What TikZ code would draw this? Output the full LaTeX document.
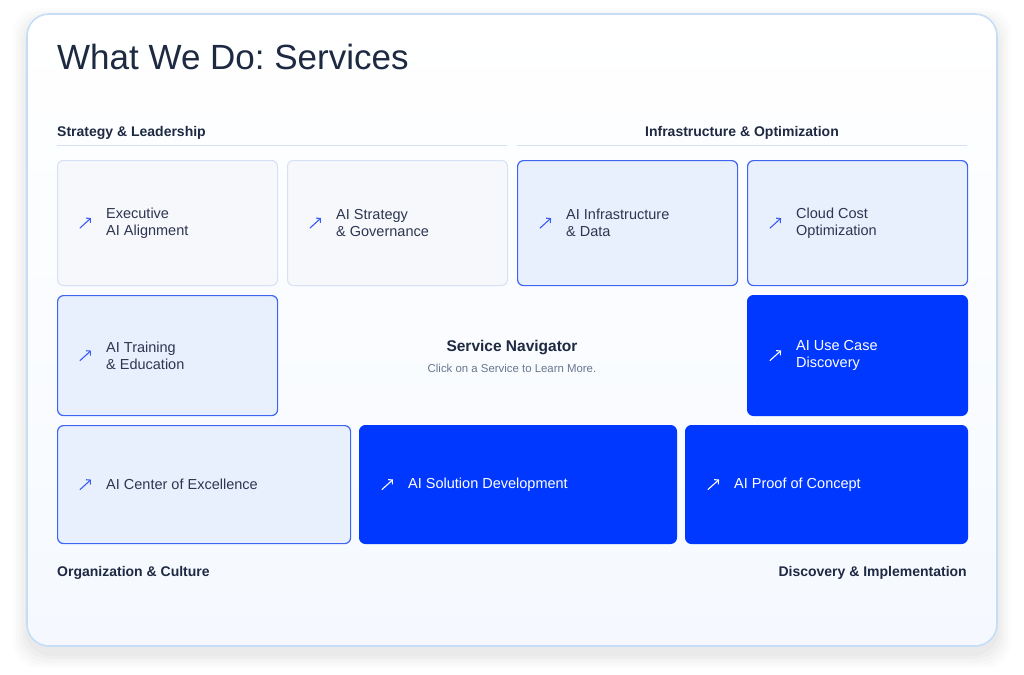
\documentclass[tikz,border=0pt]{standalone}
\usepackage{fontspec}
\setmainfont{Liberation Sans}
\usetikzlibrary{arrows.meta,positioning,calc}
\definecolor{NavyText}{RGB}{30,41,66}
\definecolor{BodyText}{RGB}{44,54,80}
\definecolor{MutedText}{RGB}{104,118,142}
\definecolor{CardBorder}{RGB}{197,221,247}
\definecolor{CardBottom}{RGB}{245,249,255}
\definecolor{RuleColor}{RGB}{214,226,243}
\definecolor{SoftFill}{RGB}{247,248,252}
\definecolor{SoftBorder}{RGB}{214,225,243}
\definecolor{TintFill}{RGB}{233,240,253}
\definecolor{AccentBlue}{RGB}{0,56,255}
\definecolor{EdgeBlue}{RGB}{62,100,242}
\definecolor{IconBlue}{RGB}{59,91,245}
\frenchspacing

\begin{document}
\begin{tikzpicture}[x=1pt,y=-1pt,
    tile/.style={rectangle, rounded corners=6pt, anchor=north west, inner sep=0pt},
    tilesoft/.style={tile, fill=SoftFill, draw=SoftBorder, line width=1pt},
    tilefocus/.style={tile, fill=TintFill, draw=EdgeBlue, line width=1.2pt},
    tilesolid/.style={tile, fill=AccentBlue, draw=AccentBlue, line width=1pt},
    tiletext/.style={anchor=west, align=left, inner sep=0pt, text=BodyText,
      font=\fontsize{14.5}{17}\selectfont},
    tiletextw/.style={tiletext, text=white},
    icon/.style={line width=1.1pt, IconBlue, line cap=round,
      -{Straight Barb[length=3pt,width=6.5pt]}},
    iconw/.style={icon, white},
    grouphead/.style={inner sep=0pt, text=NavyText, font=\bfseries\fontsize{14}{17}\selectfont}]
  \fill[white] (0,0) rectangle (1024,674);
  \useasboundingbox (0,0) rectangle (1024,674);
  % card and its shadow
  \foreach \s/\o in {14/0.012,11/0.014,8/0.016,5/0.018,2/0.02}
    \fill[black, opacity=\o, rounded corners=26pt] (27-\s,22-\s) rectangle (997+\s,654+\s);
  \draw[CardBorder, line width=1.6pt, rounded corners=22pt, top color=white, bottom color=CardBottom]
    (27,14) rectangle (997,646);
  \node[anchor=base west, inner sep=0pt, text=NavyText, font=\fontsize{35}{40}\selectfont]
    (title) at (57,70) {What We Do: Services};
  % group headings
  \node[grouphead, anchor=base west] (stratHead) at (57,136) {Strategy \& Leadership};
  \node[grouphead, anchor=base] (infraHead) at (742,136) {Infrastructure \& Optimization};
  \draw[RuleColor, line width=1pt] (57,145) -- (507,145);
  \draw[RuleColor, line width=1pt] (517,145) -- (967,145);
  \node[grouphead, anchor=base west] (orgHead) at (57,576) {Organization \& Culture};
  \node[grouphead, anchor=base east] (discHead) at (967,576) {Discovery \& Implementation};
  % first row
  \node[tilesoft, minimum width=220pt, minimum height=125pt] (exec) at (57,160) {};
  \draw[icon] ($(exec.west)+(23,5)$) -- ++(11,-10);
  \node[tiletext] (execT) at ($(exec.west)+(49,0)$) {Executive\\AI Alignment};
  \node[tilesoft, minimum width=220pt, minimum height=125pt] (strat) at (287,160) {};
  \draw[icon] ($(strat.west)+(23,5)$) -- ++(11,-10);
  \node[tiletext] (stratT) at ($(strat.west)+(49,0)$) {AI Strategy\\\& Governance};
  \node[tilefocus, minimum width=220pt, minimum height=125pt] (infra) at (517,160) {};
  \draw[icon] ($(infra.west)+(23,5)$) -- ++(11,-10);
  \node[tiletext] (infraT) at ($(infra.west)+(49,0)$) {AI Infrastructure\\\& Data};
  \node[tilefocus, minimum width=220pt, minimum height=125pt] (cloud) at (747,160) {};
  \draw[icon] ($(cloud.west)+(23,5)$) -- ++(11,-10);
  \node[tiletext] (cloudT) at ($(cloud.west)+(49,0)$) {Cloud Cost\\Optimization};
  % second row
  \node[tilefocus, minimum width=220pt, minimum height=120pt] (train) at (57,295) {};
  \draw[icon] ($(train.west)+(23,5)$) -- ++(11,-10);
  \node[tiletext] (trainT) at ($(train.west)+(49,0)$) {AI Training\\\& Education};
  \node[anchor=base, inner sep=0pt, text=NavyText, font=\bfseries\fontsize{15.5}{18}\selectfont]
    (navTitle) at (512,351) {Service Navigator};
  \node[anchor=base, inner sep=0pt, text=MutedText, font=\fontsize{11.4}{14}\selectfont]
    (navHint) at (512,372) {Click on a Service to Learn More.};
  \node[tilesolid, minimum width=220pt, minimum height=120pt] (usecase) at (747,295) {};
  \draw[iconw] ($(usecase.west)+(23,5)$) -- ++(11,-10);
  \node[tiletextw] (usecaseT) at ($(usecase.west)+(49,0)$) {AI Use Case\\Discovery};
  % third row
  \node[tilefocus, minimum width=293pt, minimum height=118pt] (coe) at (57,425) {};
  \draw[icon] ($(coe.west)+(23,5)$) -- ++(11,-10);
  \node[tiletext] (coeT) at ($(coe.west)+(49,0)$) {AI Center of Excellence};
  \node[tilesolid, minimum width=317pt, minimum height=118pt] (solution) at (359,425) {};
  \draw[iconw] ($(solution.west)+(23,5)$) -- ++(11,-10);
  \node[tiletextw] (solutionT) at ($(solution.west)+(49,0)$) {AI Solution Development};
  \node[tilesolid, minimum width=282pt, minimum height=118pt] (poc) at (685,425) {};
  \draw[iconw] ($(poc.west)+(23,5)$) -- ++(11,-10);
  \node[tiletextw] (pocT) at ($(poc.west)+(49,0)$) {AI Proof of Concept};
\end{tikzpicture}
\end{document}
